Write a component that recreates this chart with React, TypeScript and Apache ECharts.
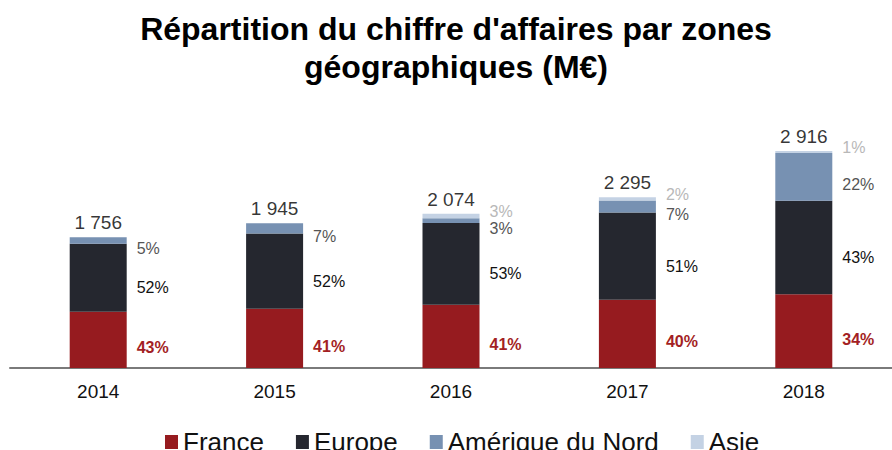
import React, { useEffect, useRef } from "react";
import * as echarts from "echarts";

const years = ["2014", "2015", "2016", "2017", "2018"];
const totals = [1756, 1945, 2074, 2295, 2916];
const france = [755, 797, 850, 918, 991];
const europe = [913, 1011, 1099, 1170, 1254];
const amerique = [88, 136, 62, 161, 642];
const asie = [0, 0, 62, 46, 29];
const pctFrance = [43, 41, 41, 40, 34];
const pctEurope = [52, 52, 53, 51, 43];
const pctAmerique = [5, 7, 3, 7, 22];
const pctAsie = [0, 0, 3, 2, 1];

const FONT = "'Liberation Sans', Arial, Helvetica, sans-serif";

const fmtThousands = (v: number) =>
  String(v).replace(/\B(?=(\d{3})+(?!\d))/g, " ");

export default function App() {
  const ref = useRef<HTMLDivElement>(null);

  useEffect(() => {
    if (!ref.current) return;
    const chart = echarts.init(ref.current, undefined, { renderer: "svg" });

    const pctLabel = (
      pcts: number[],
      color: string,
      weight: string,
      dy: number
    ) => ({
      show: true,
      position: "right" as const,
      distance: 10,
      offset: [0, dy],
      color,
      fontFamily: FONT,
      fontSize: 16,
      fontWeight: weight,
      formatter: (p: any) => (pcts[p.dataIndex] ? pcts[p.dataIndex] + "%" : ""),
    });

    chart.setOption({
      animation: false,
      backgroundColor: "#ffffff",
      title: {
        text: "Répartition du chiffre d'affaires par zones\ngéographiques (M€)",
        left: 451,
        top: 5,
        textAlign: "center",
        textStyle: {
          fontFamily: FONT,
          fontSize: 32,
          fontWeight: "bold",
          color: "#000",
          lineHeight: 38,
        },
      },
      legend: {
        left: 165,
        top: 429,
        padding: 0,
        itemWidth: 13,
        itemHeight: 14,
        itemGap: 32,
        icon: "rect",
        textStyle: { fontFamily: FONT, fontSize: 26, color: "#111" },
        data: ["France", "Europe", "Amérique du Nord", "Asie"],
      },
      grid: { left: 10, right: -6, top: 100, bottom: 82 },
      xAxis: {
        type: "category",
        data: years,
        axisTick: { show: false },
        axisLine: { lineStyle: { color: "#7a7a7a", width: 2 } },
        axisLabel: {
          fontFamily: FONT,
          fontSize: 19,
          color: "#111",
          margin: 14,
        },
      },
      yAxis: {
        type: "value",
        min: 0,
        max: 3600,
        show: false,
        splitLine: { show: false },
      },
      series: [
        {
          name: "France",
          type: "bar",
          stack: "ca",
          barWidth: 57,
          data: france,
          itemStyle: { color: "#961b1f" },
          label: pctLabel(pctFrance, "#a31f24", "bold", 8),
        },
        {
          name: "Europe",
          type: "bar",
          stack: "ca",
          barWidth: 57,
          data: europe,
          itemStyle: { color: "#25272f" },
          label: pctLabel(pctEurope, "#111", "normal", 10),
        },
        {
          name: "Amérique du Nord",
          type: "bar",
          stack: "ca",
          barWidth: 57,
          data: amerique,
          itemStyle: { color: "#7791b2" },
          label: pctLabel(pctAmerique, "#555", "normal", 8),
        },
        {
          name: "Asie",
          type: "bar",
          stack: "ca",
          barWidth: 57,
          data: asie,
          itemStyle: { color: "#c4d2e4" },
          label: pctLabel(pctAsie, "#b8b8b8", "normal", -4),
        },
        {
          name: "Total",
          type: "scatter",
          data: totals,
          symbolSize: 0,
          silent: true,
          label: {
            show: true,
            position: "top",
            distance: 5,
            fontFamily: FONT,
            fontSize: 19,
            color: "#000",
            formatter: (p: any) => fmtThousands(totals[p.dataIndex]),
          },
        },
      ],
    });

    return () => chart.dispose();
  }, []);

  return (
    <div
      ref={ref}
      style={{ position: "absolute", left: 0, top: 0, width: 892, height: 450 }}
    />
  );
}
